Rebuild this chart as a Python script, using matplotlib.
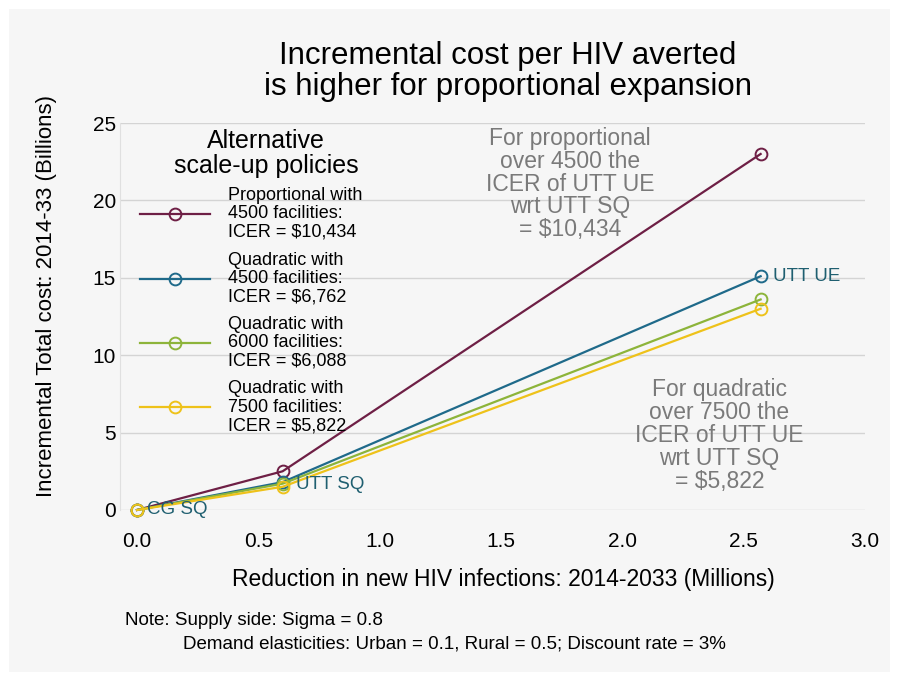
import matplotlib.pyplot as plt
from matplotlib.patches import Rectangle

# data
x_points = [0.0, 0.6, 2.57]
proportional_4500 = [0.0, 2.5, 23.0]
quadratic_4500 = [0.0, 1.8, 15.1]
quadratic_6000 = [0.0, 1.7, 13.6]
quadratic_7500 = [0.0, 1.5, 13.0]

series_labels = [
    "Proportional with\n4500 facilities:\nICER = $10,434",
    "Quadratic with\n4500 facilities:\nICER = $6,762",
    "Quadratic with\n6000 facilities:\nICER = $6,088",
    "Quadratic with\n7500 facilities:\nICER = $5,822",
]
series_colors = ["#6e1f45", "#1f6a8a", "#8db43a", "#eec21a"]

x_ticks = [0.0, 0.5, 1.0, 1.5, 2.0, 2.5, 3.0]
y_ticks = [0, 5, 10, 15, 20, 25]

plt.rcParams["font.family"] = ["Liberation Sans", "DejaVu Sans"]
bg = "#f6f6f6"

fig = plt.figure(figsize=(8.97, 6.77), dpi=100, facecolor="white")
fig.patches.append(Rectangle((0.01, 0.007), 0.982, 0.98, transform=fig.transFigure,
                             facecolor=bg, edgecolor="none", zorder=-10))
ax = fig.add_axes([0.1338, 0.2467, 0.8305, 0.5716])
ax.set_facecolor(bg)

series = [proportional_4500, quadratic_4500, quadratic_6000, quadratic_7500]
for vals, lab, col in zip(series, series_labels, series_colors):
    ax.plot(x_points, vals, color=col, lw=1.6, marker="o", markersize=8.5,
            markerfacecolor="none", markeredgewidth=1.4, label=lab,
            clip_on=False, zorder=3)

ax.set_xlim(-0.07, 3.0)
ax.set_ylim(0, 25)
ax.set_xticks(x_ticks)
ax.set_xticklabels([f"{t:.1f}" for t in x_ticks])
ax.set_yticks(y_ticks)
ax.tick_params(axis="both", length=0, labelsize=15)
ax.tick_params(axis="x", pad=16)
ax.tick_params(axis="y", pad=3)
ax.grid(axis="y", color="#d4d4d4", lw=1.0)
ax.set_axisbelow(True)
for side in ["top", "right", "bottom"]:
    ax.spines[side].set_visible(False)
ax.spines["left"].set_color("#e0e0e0")

ax.set_ylabel("Incremental Total cost: 2014-33 (Billions)", fontsize=16)
ax.yaxis.set_label_coords(-0.085, 0.553)
ax.set_xlabel("Reduction in new HIV infections: 2014-2033 (Millions)", fontsize=16.5)
ax.xaxis.set_label_coords(0.514, -0.15)

leg = ax.legend(loc="upper left", bbox_to_anchor=(0.017, 0.853), frameon=False,
                fontsize=13, handlelength=3.9, handletextpad=1.0,
                labelspacing=0.6, borderaxespad=0.0)
for t in leg.get_texts():
    t.set_linespacing(1.1)
ax.text(0.196, 0.922, "Alternative\nscale-up policies", transform=ax.transAxes,
        fontsize=18, ha="center", va="center", linespacing=1.05)

# point labels
ax.text(2.62, 15.1, "UTT UE", color="#1f5f70", fontsize=13.5, va="center")
ax.text(0.655, 1.65, "UTT SQ", color="#1f5f70", fontsize=13.5, va="center")
ax.text(0.04, 0.0, "CG SQ", color="#1f5f70", fontsize=13.5, va="center")

# annotations
ax.text(1.785, 24.75, "For proportional\nover 4500 the\nICER of UTT UE\nwrt UTT SQ\n= $10,434",
        color="#7a7a7a", fontsize=16.5, ha="center", va="top", multialignment="center",
        linespacing=0.99)
ax.text(2.40, 8.5, "For quadratic\nover 7500 the\nICER of UTT UE\nwrt UTT SQ\n= $5,822",
        color="#7a7a7a", fontsize=16.5, ha="center", va="top", multialignment="center",
        linespacing=0.99)

fig.text(0.566, 0.895, "Incremental cost per HIV averted\nis higher for proportional expansion",
         ha="center", va="center", fontsize=22.5, linespacing=1.05)

fig.text(0.139, 0.083, "Note: Supply side: Sigma = 0.8", fontsize=13.5, va="center")
fig.text(0.204, 0.049, "Demand elasticities: Urban = 0.1, Rural = 0.5; Discount rate = 3%",
         fontsize=13.5, va="center")

fig.savefig("out.png", dpi=100, facecolor="white")
